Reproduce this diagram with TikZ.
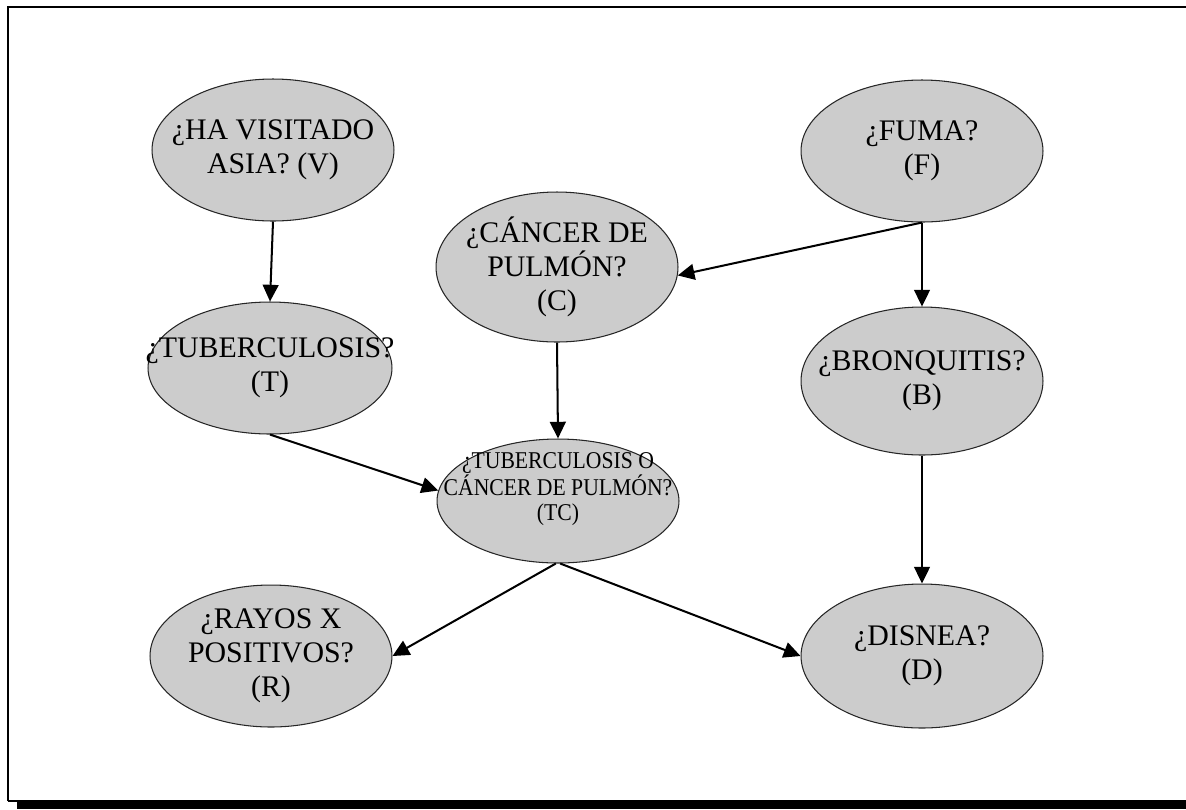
\documentclass[tikz,border=0pt]{standalone}
\usepackage{fontspec}
\setmainfont{Liberation Serif}
\newfontfamily\narrowserif[FakeStretch=0.9]{Liberation Serif}
\usetikzlibrary{shapes.geometric,arrows.meta}

\tikzset{
  var/.style={ellipse, draw=black!85, line width=0.6pt, fill=gray!40, inner sep=0pt},
  caption/.style={align=center, inner sep=0pt, font=\fontsize{17}{19.5}\selectfont},
  smallcaption/.style={align=center, inner sep=0pt, font=\narrowserif\fontsize{13.7}{13.9}\selectfont},
  link/.style={line width=1.15pt, -{Triangle[length=9.5pt,width=9pt]}},
  frameline/.style={line width=1.13pt},
}

\begin{document}
\begin{tikzpicture}[x=0.02cm, y=-0.02cm]
  \useasboundingbox (0,0) rectangle (1186,809);

  % page frame with its drop shadow
  \draw[frameline] (8,801) -- (8,7) -- (1190,7);
  \draw[frameline] (8,801) -- (1190,801);
  \fill (17,802) rectangle (1186,809);

  % variables of the network
  \node[var, minimum width=4.84cm, minimum height=2.84cm,
        label={[caption]center:¿HA VISITADO\\ASIA? (V)}] (V) at (273,150) {};
  \node[var, minimum width=4.84cm, minimum height=2.84cm,
        label={[caption]center:¿FUMA?\\(F)}] (F) at (922,151) {};
  \node[var, minimum width=4.84cm, minimum height=3.00cm,
        label={[caption]center:¿CÁNCER DE\\PULMÓN?\\(C)}] (C) at (557,267) {};
  \node[var, minimum width=4.88cm, minimum height=2.64cm,
        label={[caption]center:¿TUBERCULOSIS?\\(T)}] (T) at (270,368) {};
  \node[var, minimum width=4.84cm, minimum height=2.96cm,
        label={[caption]center:¿BRONQUITIS?\\(B)}] (B) at (922,381) {};
  \node[var, minimum width=4.84cm, minimum height=2.48cm,
        label={[smallcaption, yshift=0.24cm]center:¿TUBERCULOSIS O\\CÁNCER DE PULMÓN?\\(TC)}] (TC) at (558,501) {};
  \node[var, minimum width=4.84cm, minimum height=2.84cm,
        label={[caption]center:¿RAYOS X\\POSITIVOS?\\(R)}] (R) at (271,656) {};
  \node[var, minimum width=4.84cm, minimum height=2.88cm,
        label={[caption]center:¿DISNEA?\\(D)}] (D) at (922,656) {};

  % dependencies
  \draw[link] (V.south) -- (T.north);
  \draw[link] (F.south) -- (C.-4);
  \draw[link] (F.south) -- (B.north);
  \draw[link] (C.south) -- (TC.north);
  \draw[link] (T.south) -- (TC.175);
  \draw[link] (TC.268) -- (R.east);
  \draw[link] (TC.272) -- (D.west);
  \draw[link] (B.south) -- (D.north);
\end{tikzpicture}
\end{document}
